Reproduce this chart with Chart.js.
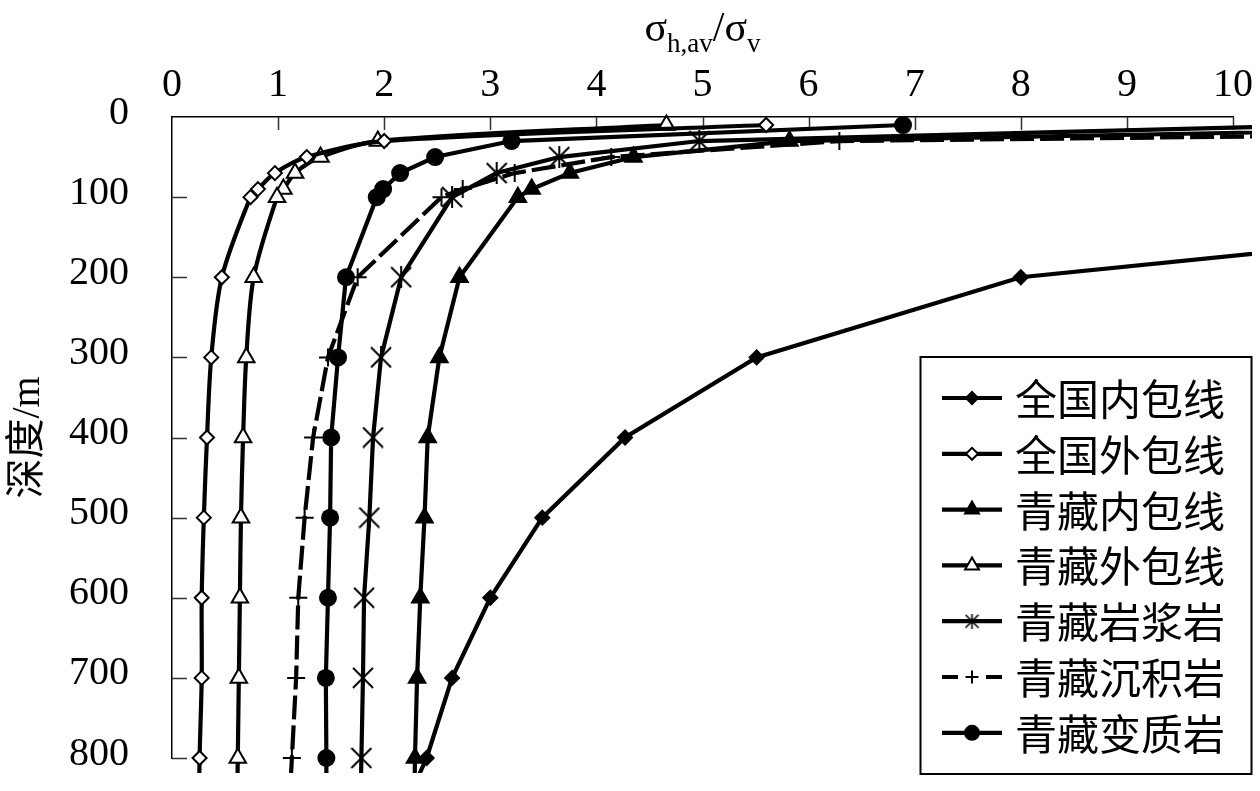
<!DOCTYPE html>
<html>
<head>
<meta charset="utf-8">
<script src="https://cdn.jsdelivr.net/npm/chart.js@4.4.1/dist/chart.umd.min.js"></script>
<style>
  html, body { margin: 0; padding: 0; background: #fff; }
</style>
</head>
<body>
<canvas id="chart" width="1260" height="791"></canvas>
<script>
// Depth (m) on the reversed y axis, ratio sigma_h,av / sigma_v on the top x axis
const xTicks = [0, 1, 2, 3, 4, 5, 6, 7, 8, 9, 10];
const yTicks = [0, 100, 200, 300, 400, 500, 600, 700, 800];

const depthsFull = [10, 30, 50, 70, 90, 100, 200, 300, 400, 500, 600, 700, 800, 900];

// 全国内包线
const nationalInnerDepth = [100, 200, 300, 400, 500, 600, 700, 800, 900];
const nationalInnerRatio = [15.5, 8.0, 5.51, 4.27, 3.49, 3.00, 2.64, 2.40, 2.06];
// 全国外包线
const nationalOuterRatio = [5.6, 2.0, 1.27, 0.97, 0.81, 0.74, 0.47, 0.37, 0.33, 0.30, 0.28, 0.28, 0.26, 0.25];
// 青藏内包线
const qtInnerRatio = [14.0, 5.82, 4.35, 3.75, 3.39, 3.26, 2.71, 2.52, 2.41, 2.38, 2.34, 2.31, 2.29, 2.28];
// 青藏外包线
const qtOuterRatio = [4.66, 1.94, 1.40, 1.16, 1.05, 0.99, 0.77, 0.70, 0.67, 0.65, 0.64, 0.63, 0.62, 0.61];
// 青藏岩浆岩
const igneousDepth = [10, 30, 50, 70, 100, 200, 300, 400, 500, 600, 700, 800, 900];
const igneousRatio = [11.0, 4.97, 3.65, 3.06, 2.64, 2.16, 1.97, 1.895, 1.86, 1.81, 1.80, 1.785, 1.77];
// 青藏沉积岩
const sedimentaryRatio = [20.0, 6.29, 4.14, 3.23, 2.74, 2.54, 1.75, 1.47, 1.33, 1.25, 1.19, 1.17, 1.13, 1.09];
// 青藏变质岩
const metamorphicRatio = [6.89, 3.2, 2.48, 2.15, 1.99, 1.93, 1.64, 1.565, 1.50, 1.49, 1.47, 1.45, 1.455, 1.455];

const seriesNames = ['全国内包线', '全国外包线', '青藏内包线', '青藏外包线', '青藏岩浆岩', '青藏沉积岩', '青藏变质岩'];

const toPoints = (depths, ratios) => depths.map((d, i) => ({ x: ratios[i], y: d }));

// asterisk marker: X with a vertical stroke
function makeAsterisk(size, lw) {
  const c = document.createElement('canvas');
  c.width = size; c.height = size;
  const g = c.getContext('2d');
  g.strokeStyle = '#000';
  g.lineWidth = lw;
  const m = 1;
  g.beginPath();
  g.moveTo(m, m); g.lineTo(size - m, size - m);
  g.moveTo(size - m, m); g.lineTo(m, size - m);
  g.moveTo(size / 2, 0); g.lineTo(size / 2, size);
  g.stroke();
  return c;
}
const asteriskBig = makeAsterisk(22, 2);
const asteriskSmall = makeAsterisk(15, 1.6);

const lineW = 4.2;
const clipArea = { left: 10, top: 10, right: 19, bottom: 15 };

function series(label, data, opts) {
  return Object.assign({
    label: label,
    data: data,
    showLine: true,
    borderColor: '#000',
    borderWidth: lineW,
    pointBorderColor: '#000',
    pointBackgroundColor: '#000',
    pointBorderWidth: 2,
    tension: 0,
    clip: clipArea
  }, opts);
}

const datasets = [
  series(seriesNames[0], toPoints(nationalInnerDepth, nationalInnerRatio), { pointStyle: 'rectRot', pointRadius: 7 }),
  series(seriesNames[1], toPoints(depthsFull, nationalOuterRatio), { pointStyle: 'rectRot', pointRadius: 7, pointBackgroundColor: '#fff', tension: 0.3 }),
  series(seriesNames[2], toPoints(depthsFull, qtInnerRatio), { pointStyle: 'triangle', pointRadius: 9.5 }),
  series(seriesNames[3], toPoints(depthsFull, qtOuterRatio), { pointStyle: 'triangle', pointRadius: 9.5, pointBackgroundColor: '#fff', tension: 0.3 }),
  series(seriesNames[4], toPoints(igneousDepth, igneousRatio), { pointStyle: asteriskBig }),
  series(seriesNames[5], toPoints(depthsFull, sedimentaryRatio), { pointStyle: 'cross', pointRadius: 9, borderDash: [24, 6] }),
  series(seriesNames[6], toPoints(depthsFull, metamorphicRatio), { pointStyle: 'circle', pointRadius: 9, pointBorderWidth: 0 })
];

// legend marker settings (smaller than the plotted ones)
const legendMarks = [
  { style: 'rectRot', r: 6, fill: '#000' },
  { style: 'rectRot', r: 6, fill: '#fff' },
  { style: 'triangle', r: 8, fill: '#000' },
  { style: 'triangle', r: 8, fill: '#fff' },
  { style: asteriskSmall, r: 7, fill: '#000' },
  { style: 'cross', r: 6.5, fill: '#000' },
  { style: 'circle', r: 7, fill: '#000' }
];

const serif = '"Liberation Serif", "Times New Roman", serif';
const cjk = '"Noto Sans CJK SC", sans-serif';

const decor = {
  id: 'decor',
  beforeDatasetsDraw(chart) {
    const { ctx, chartArea, scales } = chart;
    ctx.save();
    ctx.strokeStyle = '#333';
    ctx.lineWidth = 1.5;
    ctx.beginPath();
    xTicks.slice(1).forEach(v => {
      const px = Math.round(scales.x.getPixelForValue(v)) + 0.5;
      ctx.moveTo(px, chartArea.top);
      ctx.lineTo(px, chartArea.top + 13);
    });
    yTicks.slice(1).forEach(v => {
      const py = Math.round(scales.y.getPixelForValue(v)) + 0.5;
      ctx.moveTo(chartArea.left, py);
      ctx.lineTo(chartArea.left + 15, py);
    });
    ctx.stroke();
    ctx.restore();
  },
  afterDraw(chart) {
    const { ctx, chartArea } = chart;
    ctx.save();

    // axis title  σh,av/σv
    const parts = [
      { t: 'σ', size: 42, base: 41 },
      { t: 'h,av', size: 27, base: 52 },
      { t: '/', size: 42, base: 41 },
      { t: 'σ', size: 42, base: 41 },
      { t: 'v', size: 27, base: 52 }
    ];
    let total = 0;
    parts.forEach(p => { ctx.font = p.size + 'px ' + serif; p.w = ctx.measureText(p.t).width; total += p.w; });
    let tx = (chartArea.left + chartArea.right) / 2 - total / 2;
    ctx.fillStyle = '#000';
    ctx.textBaseline = 'alphabetic';
    ctx.textAlign = 'left';
    parts.forEach(p => { ctx.font = p.size + 'px ' + serif; ctx.fillText(p.t, tx, p.base); tx += p.w; });

    // legend box
    const bx = 920.5, by = 357, bw = 331, bh = 417;
    ctx.fillStyle = '#fff';
    ctx.fillRect(bx, by, bw, bh);
    ctx.strokeStyle = '#000';
    ctx.lineWidth = 2;
    ctx.strokeRect(bx, by, bw, bh);

    const rowY0 = 398, rowStep = 55.8;
    chart.data.datasets.forEach((ds, i) => {
      const yy = rowY0 + i * rowStep;
      ctx.strokeStyle = '#000';
      ctx.lineWidth = lineW;
      ctx.beginPath();
      if (ds.borderDash) {
        ctx.moveTo(942, yy); ctx.lineTo(958, yy);
        ctx.moveTo(986, yy); ctx.lineTo(1002, yy);
      } else {
        ctx.moveTo(942, yy); ctx.lineTo(1002, yy);
      }
      ctx.stroke();
      const m = legendMarks[i];
      ctx.fillStyle = m.fill;
      ctx.lineWidth = 2;
      Chart.helpers.drawPoint(ctx, { pointStyle: m.style, radius: m.r, rotation: 0, borderWidth: 2 }, 972, yy);
      ctx.fillStyle = '#000';
      ctx.font = '42px ' + cjk;
      ctx.textBaseline = 'middle';
      ctx.fillText(ds.label, 1015, yy + 1);
    });
    ctx.restore();
  }
};

new Chart(document.getElementById('chart'), {
  type: 'scatter',
  data: { datasets: datasets },
  options: {
    responsive: false,
    animation: false,
    layout: { padding: { left: 0, top: 0, right: 27, bottom: 33 } },
    plugins: { legend: { display: false }, tooltip: { enabled: false } },
    scales: {
      x: {
        type: 'linear',
        position: 'top',
        min: 0,
        max: 10,
        grid: { display: false },
        border: { display: true, color: '#000', width: 1.5 },
        ticks: { stepSize: 1, autoSkip: false, maxRotation: 0, padding: 0, color: '#000', font: { family: serif, size: 40 } },
        afterFit(scale) { scale.height = 117; scale.paddingLeft = 0; scale.paddingRight = 0; }
      },
      y: {
        type: 'linear',
        reverse: true,
        min: 0,
        max: 800,
        grid: { display: false },
        border: { display: true, color: '#000', width: 1.5 },
        ticks: { stepSize: 100, autoSkip: false, padding: 35, labelOffset: -4, color: '#000', font: { family: serif, size: 40 } },
        title: { display: true, text: '深度/m', color: '#000', padding: 4, font: { family: '"Liberation Serif", "Noto Sans CJK SC", serif', size: 40 } },
        afterFit(scale) { scale.width = 172; scale.paddingTop = 0; scale.paddingBottom = 0; }
      }
    }
  },
  plugins: [decor]
});
</script>
</body>
</html>
